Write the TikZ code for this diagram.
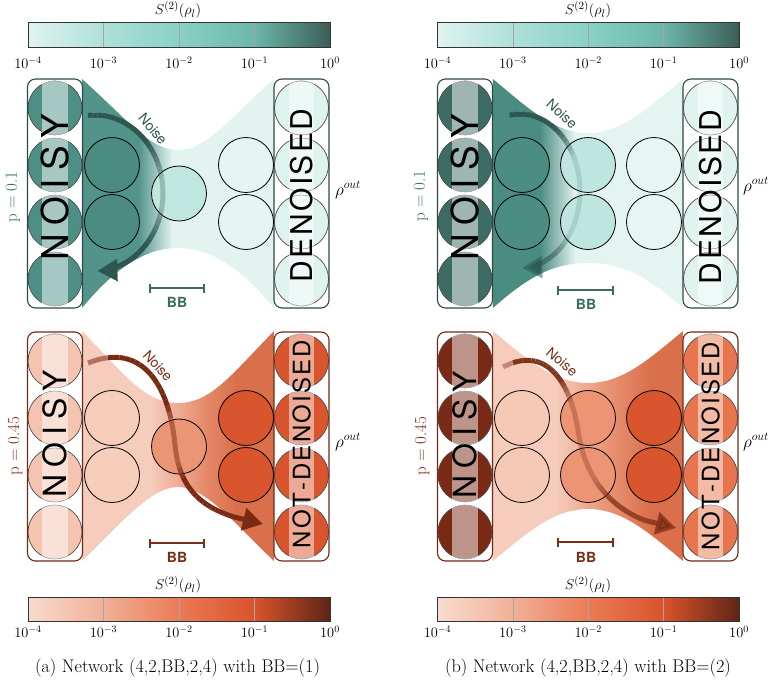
\documentclass[tikz,border=0pt]{standalone}
\usepackage{fontspec}
\newfontfamily\hv{TeX Gyre Heros}
\usetikzlibrary{arrows.meta}

\definecolor{tBox}{HTML}{2E4A46}
\definecolor{tTxt}{HTML}{3D6B64}
\definecolor{tArr}{HTML}{2C564F}
\definecolor{bBox}{HTML}{6E2A16}
\definecolor{bTxt}{HTML}{7A2E17}
\definecolor{bArr}{HTML}{7A2A12}
\definecolor{tlIn}{HTML}{4E8F85}
\definecolor{tlH2}{HTML}{4B8B80}
\definecolor{tlBB}{HTML}{C0E6E0}
\definecolor{tlH4}{HTML}{E5F5F2}
\definecolor{tlOut}{HTML}{DEF2EE}
\definecolor{tlFd}{HTML}{52938A}
\definecolor{tlFl}{HTML}{E3F3F0}
\definecolor{trIn}{HTML}{3D6C64}
\definecolor{trH2}{HTML}{4B8D82}
\definecolor{trBB}{HTML}{BFE5DF}
\definecolor{trH4}{HTML}{E8F6F3}
\definecolor{trOut}{HTML}{E0F3EF}
\definecolor{trFd}{HTML}{4B8C81}
\definecolor{trFl}{HTML}{E4F4F1}
\definecolor{blIn}{HTML}{F4C4B1}
\definecolor{blH2}{HTML}{F6CCBB}
\definecolor{blBB}{HTML}{EC9575}
\definecolor{blH4}{HTML}{D9552D}
\definecolor{blOut}{HTML}{D9552D}
\definecolor{fPink}{HTML}{F6CDBD}
\definecolor{blFm}{HTML}{E58A6A}
\definecolor{fDark}{HTML}{D9704B}
\definecolor{brIn}{HTML}{7A2914}
\definecolor{brH2}{HTML}{F6C9B7}
\definecolor{brBB}{HTML}{EC9474}
\definecolor{brH4}{HTML}{D9552D}
\definecolor{brOut}{HTML}{E8754E}
\definecolor{brFm}{HTML}{EB9A7C}
\definecolor{cTa}{HTML}{E0F3F0}
\definecolor{cTb}{HTML}{AEE0D8}
\definecolor{cTc}{HTML}{88D1C4}
\definecolor{cTd}{HTML}{6DB6A9}
\definecolor{cTe}{HTML}{3B5E57}
\definecolor{cOa}{HTML}{F8DBCF}
\definecolor{cOb}{HTML}{F1B097}
\definecolor{cOc}{HTML}{EA7B55}
\definecolor{cOd}{HTML}{D8532C}
\definecolor{cOe}{HTML}{5E2516}

\newcommand\setbez[8]{\def\Bxa{#1}\def\Bya{#2}\def\Bxb{#3}\def\Byb{#4}\def\Bxc{#5}\def\Byc{#6}\def\Bxd{#7}\def\Byd{#8}}
\newcommand\bezpt[1]{%
 \pgfmathsetmacro\Pu{1-#1}%
 \pgfmathsetmacro\Px{\Pu*\Pu*\Pu*\Bxa+3*\Pu*\Pu*#1*\Bxb+3*\Pu*#1*#1*\Bxc+#1*#1*#1*\Bxd}%
 \pgfmathsetmacro\Py{\Pu*\Pu*\Pu*\Bya+3*\Pu*\Pu*#1*\Byb+3*\Pu*#1*#1*\Byc+#1*#1*#1*\Byd}}
\newcommand\fadebez[4]{%
 \foreach \i in {1,...,#1} {
   \pgfmathsetmacro\Ta{(\i-1)/#1*#2}
   \pgfmathsetmacro\Tb{\i/#1*#2}
   \pgfmathsetmacro\tm{(\i-0.5)/#1*#2}
   \bezpt{\Ta}\let\Qxa\Px\let\Qya\Py
   \bezpt{\Tb}
   \pgfmathsetmacro\myop{#3}
   \draw[arrw,#4,opacity=\myop] (\Qxa,\Qya) -- (\Px,\Py);
 }}
\newcommand\cbar[9]{%
 \pgfmathsetmacro\cbq{(#2-#1)/4}
 \shade[left color=#5,right color=#6] (#1,#3) rectangle ({#1+\cbq+0.4},#4);
 \shade[left color=#6,right color=#7] ({#1+\cbq},#3) rectangle ({#1+2*\cbq+0.4},#4);
 \shade[left color=#7,right color=#8] ({#1+2*\cbq},#3) rectangle ({#1+3*\cbq+0.4},#4);
 \shade[left color=#8,right color=#9] ({#1+3*\cbq},#3) rectangle (#2,#4);
 \foreach \k in {1,2,3} \draw[cbtick] ({#1+\k*\cbq},#3) -- ({#1+\k*\cbq},#4);
 \draw[cbframe] (#1,#3) rectangle (#2,#4);
}

\begin{document}
\begin{tikzpicture}[x=1pt,y=-1pt,
  iocirc/.style={circle,inner sep=0pt,minimum size=54pt,draw=black!70,line width=0.7pt},
  hid/.style={circle,inner sep=0pt,minimum size=55pt,draw=black,line width=0.8pt},
  iobox/.style={rectangle,rounded corners=8pt,inner sep=0pt,minimum width=55pt,minimum height=229pt,line width=1.1pt},
  band/.style={fill=white,fill opacity=0.5},
  bigtxt/.style={rotate=90,inner sep=0pt,text=black},
  arrw/.style={line width=5pt},
  bbbar/.style={line width=1.5pt},
  bblab/.style={font=\hv\bfseries\fontsize{14}{14}\selectfont,inner sep=0pt},
  noiselab/.style={font=\hv\fontsize{14}{14}\selectfont,inner sep=0pt},
  plab/.style={font=\fontsize{17}{17}\selectfont,rotate=90,inner sep=0pt},
  rholab/.style={font=\fontsize{18}{18}\selectfont,inner sep=0pt},
  cbtitle/.style={font=\fontsize{15.5}{15.5}\selectfont,inner sep=0pt},
  ticklab/.style={font=\fontsize{14}{14}\selectfont,inner sep=0pt},
  caplab/.style={font=\fontsize{18.3}{18.3}\selectfont,inner sep=0pt},
  cbframe/.style={draw=black!80,line width=0.7pt},
  cbtick/.style={draw=black!35,line width=0.5pt},
]
\useasboundingbox (0,0) rectangle (770,680);

% ================= colour bars =================
\cbar{28}{330}{22}{47}{cTa}{cTb}{cTc}{cTd}{cTe}
\cbar{437.5}{739}{22}{47}{cTa}{cTb}{cTc}{cTd}{cTe}
\cbar{28}{330}{597}{621}{cOa}{cOb}{cOc}{cOd}{cOe}
\cbar{437.5}{739}{597}{621}{cOa}{cOb}{cOc}{cOd}{cOe}
\node[cbtitle] (cbtA) at (178,10) {$S^{(2)}(\rho_l)$};
\node[cbtitle] (cbtB) at (588,10) {$S^{(2)}(\rho_l)$};
\node[cbtitle] (cbtC) at (178,585) {$S^{(2)}(\rho_l)$};
\node[cbtitle] (cbtD) at (588,585) {$S^{(2)}(\rho_l)$};
\foreach \e [count=\k from 0] in {-4,-3,-2,-1,0} {
  \node[ticklab] (tkA\k) at ({28+75.5*\k},63) {$10^{\e}$};
  \node[ticklab] (tkB\k) at ({437.5+75.375*\k},63) {$10^{\e}$};
  \node[ticklab] (tkC\k) at ({28+75.5*\k},632) {$10^{\e}$};
  \node[ticklab] (tkD\k) at ({437.5+75.375*\k},632) {$10^{\e}$};
}

% ================= top left =================
\begin{scope}
 \clip (82,79) .. controls (130,122) and (150,150) .. (178,150) .. controls (206,150) and (226,122) .. (274,79) -- (274,308) .. controls (236,262) and (206,248) .. (178,248) .. controls (150,248) and (120,262) .. (82,308) -- cycle;
 \fill[tlFd] (82,70) rectangle (138.5,320);
 \shade[left color=tlFd,right color=tlFl] (138,70) rectangle (172.5,320);
 \fill[tlFl] (172,70) rectangle (274,320);
\end{scope}
\foreach \r/\yy in {1/108,2/165,3/222,4/279} {
  \node[iocirc,fill=tlIn] (tlI\r) at (55,\yy) {};
  \node[iocirc,fill=tlOut] (tlO\r) at (301.5,\yy) {};
}
\fill[band] (42,80.5) rectangle (68,306.5);
\fill[band] (289,80.5) rectangle (314,306.5);
\node[iobox,draw=tBox] (tlInBox) at (55,193.5) {};
\node[iobox,draw=tBox] (tlOutBox) at (301.5,193.5) {};
\node[hid,fill=tlH2] (tlA1) at (112,165) {};
\node[hid,fill=tlH2] (tlA2) at (112,222) {};
\node[hid,fill=tlBB] (tlB1) at (179,193.5) {};
\node[hid,fill=tlH4] (tlC1) at (246,165) {};
\node[hid,fill=tlH4] (tlC2) at (246,222) {};
\foreach \a in {-96,-92,...,64} {
  \pgfmathsetmacro\myop{0.3+0.7*min(1,max(0,(abs(\a+2)-12)/30))}
  \draw[arrw,tArr,opacity=\myop] ({95+68*cos(\a)},{193+78*sin(\a)}) arc[start angle=\a,delta angle=4,x radius=68,y radius=78];
}
\draw[arrw,tArr,-{Triangle[length=20pt,width=21pt]}] ({95+68*cos(68)},{193+78*sin(68)}) arc[start angle=68,end angle=88,x radius=68,y radius=78];
\node[noiselab,text=tArr,rotate=-50] (tlNoise) at (153,129) {Noise};
\node[bigtxt,font=\hv\fontsize{37}{37}\selectfont] (tlNoisy) at (55,187) {N\kern8pt O\kern8pt I\kern8pt S\kern8pt Y};
\node[bigtxt,font=\hv\fontsize{30}{30}\selectfont] (tlDen) at (301.5,195.5) {D\kern2.5pt E\kern2.5pt N\kern2.5pt O\kern2.5pt I\kern2.5pt S\kern2.5pt E\kern2.5pt D};
\node[plab,text=tTxt] (tlP) at (13,197) {p${}={}$0.1};
\node[rholab] (tlRho) at (348,190) {$\rho^{out}$};
\draw[bbbar,tTxt] (150,283.5) -- (150,292.5) (150,288) -- (204,288) (204,283.5) -- (204,292.5);
\node[bblab,text=tTxt] (tlBBl) at (177,302) {BB};

% ================= top right =================
\begin{scope}
 \clip (493,79) .. controls (530,110) and (555,133) .. (588,133) .. controls (621,133) and (646,110) .. (683,79) -- (683,308) .. controls (646,275) and (621,263) .. (588,263) .. controls (555,263) and (530,275) .. (493,308) -- cycle;
 \fill[trFd] (493,70) rectangle (540.5,320);
 \shade[left color=trFd,right color=trFl] (540,70) rectangle (575.5,320);
 \fill[trFl] (575,70) rectangle (683,320);
\end{scope}
\foreach \r/\yy in {1/108,2/165,3/222,4/279} {
  \node[iocirc,fill=trIn] (trI\r) at (465,\yy) {};
  \node[iocirc,fill=trOut] (trO\r) at (710.5,\yy) {};
}
\fill[band] (452,80.5) rectangle (478,306.5);
\fill[band] (698,80.5) rectangle (723,306.5);
\node[iobox,draw=tBox] (trInBox) at (465,193.5) {};
\node[iobox,draw=tBox] (trOutBox) at (710.5,193.5) {};
\node[hid,fill=trH2] (trA1) at (522,165) {};
\node[hid,fill=trH2] (trA2) at (522,222) {};
\node[hid,fill=trBB] (trB1) at (588,165) {};
\node[hid,fill=trBB] (trB2) at (588,222) {};
\node[hid,fill=trH4] (trC1) at (654,165) {};
\node[hid,fill=trH4] (trC2) at (654,222) {};
\foreach \a in {-100,-96,...,60} {
  \pgfmathsetmacro\myop{ifthenelse(\a+2<0, 0.15+0.8*min(1,max(0,(-\a-2-25)/30)), 0.15+0.4*min(1,max(0,(\a+2-35)/20)))}
  \draw[arrw,tArr,opacity=\myop] ({520+60*cos(\a)},{191+77*sin(\a)}) arc[start angle=\a,delta angle=4,x radius=60,y radius=77];
}
\draw[arrw,tArr,opacity=0.55,-{Triangle[length=20pt,width=21pt]}] ({520+60*cos(64)},{191+77*sin(64)}) arc[start angle=64,end angle=88,x radius=60,y radius=77];
\node[noiselab,text=tArr,rotate=-42] (trNoise) at (562,114) {Noise};
\node[bigtxt,font=\hv\fontsize{37}{37}\selectfont] (trNoisy) at (465,187) {N\kern8pt O\kern8pt I\kern8pt S\kern8pt Y};
\node[bigtxt,font=\hv\fontsize{30}{30}\selectfont] (trDen) at (710.5,197) {D\kern2.5pt E\kern2.5pt N\kern2.5pt O\kern2.5pt I\kern2.5pt S\kern2.5pt E\kern2.5pt D};
\node[plab,text=tTxt] (trP) at (421,196) {p${}={}$0.1};
\node[rholab] (trRho) at (756,186) {$\rho^{out}$};
\draw[bbbar,tTxt] (558,285.5) -- (558,294.5) (558,290) -- (613,290) (613,285.5) -- (613,294.5);
\node[bblab,text=tTxt] (trBBl) at (586,304) {BB};

% ================= bottom left =================
\begin{scope}
 \clip (82,331) .. controls (125,375) and (145,403) .. (178,403) .. controls (211,403) and (231,375) .. (274,331) -- (274,561) .. controls (236,525) and (206,487) .. (178,487) .. controls (150,487) and (120,525) .. (82,561) -- cycle;
 \fill[fPink] (82,320) rectangle (150.5,570);
 \shade[left color=fPink,right color=blFm] (150,320) rectangle (205.5,570);
 \shade[left color=blFm,right color=fDark] (205,320) rectangle (235.5,570);
 \fill[fDark] (235,320) rectangle (274,570);
\end{scope}
\foreach \r/\yy in {1/361,2/418,3/475,4/532} {
  \node[iocirc,fill=blIn] (blI\r) at (55,\yy) {};
  \node[iocirc,fill=blOut] (blO\r) at (301.5,\yy) {};
}
\fill[band] (42,333.5) rectangle (68,559.5);
\fill[band] (289,333.5) rectangle (314,559.5);
\node[iobox,draw=bBox] (blInBox) at (55,446.5) {};
\node[iobox,draw=bBox] (blOutBox) at (301.5,446.5) {};
\node[hid,fill=blH2] (blA1) at (112,418) {};
\node[hid,fill=blH2] (blA2) at (112,475) {};
\node[hid,fill=blBB] (blB1) at (179,446.5) {};
\node[hid,fill=blH4] (blC1) at (246,418) {};
\node[hid,fill=blH4] (blC2) at (246,475) {};
\setbez{88}{363}{145}{340}{170}{390}{175}{445}
\fadebez{24}{1}{ifthenelse(\tm<0.12,0.55,ifthenelse(\tm<0.75,1,max(0.5,1-(\tm-0.75)*5)))}{bArr}
\setbez{175}{445}{180}{500}{215}{515}{263}{524}
\fadebez{20}{0.78}{ifthenelse(\tm<0.12,0.5,min(1,0.5+(\tm-0.12)*4))}{bArr}
\bezpt{0.78}
\coordinate (blArrS) at (\Px,\Py);
\coordinate (blArrE) at (263,524);
\draw[arrw,bArr,-{Triangle[length=20pt,width=22pt]}] (blArrS) -- (blArrE);
\node[noiselab,text=bTxt,rotate=-47] (blNoise) at (158,366) {Noise};
\node[bigtxt,font=\hv\fontsize{32}{32}\selectfont] (blNoisy) at (55,434) {N\kern7pt O\kern7pt I\kern7pt S\kern7pt Y};
\node[bigtxt,font=\hv\fontsize{24}{24}\selectfont] (blDen) at (301.5,444) {N\kern2.2pt O\kern2.2pt T\kern2.2pt -\kern2.2pt D\kern2.2pt E\kern2.2pt N\kern2.2pt O\kern2.2pt I\kern2.2pt S\kern2.2pt E\kern2.2pt D};
\node[plab,text=bTxt] (blP) at (15,446) {p${}={}$0.45};
\node[rholab] (blRho) at (348,442) {$\rho^{out}$};
\draw[bbbar,bTxt] (150,538.5) -- (150,547.5) (150,543) -- (204,543) (204,538.5) -- (204,547.5);
\node[bblab,text=bTxt] (blBBl) at (177,557) {BB};

% ================= bottom right =================
\begin{scope}
 \clip (493,331) .. controls (530,362) and (555,383) .. (588,383) .. controls (621,383) and (646,362) .. (683,331) -- (683,561) .. controls (646,530) and (621,509) .. (588,509) .. controls (555,509) and (530,530) .. (493,561) -- cycle;
 \fill[fPink] (493,320) rectangle (555.5,570);
 \shade[left color=fPink,right color=brFm] (555,320) rectangle (600.5,570);
 \shade[left color=brFm,right color=fDark] (600,320) rectangle (650.5,570);
 \fill[fDark] (650,320) rectangle (683,570);
\end{scope}
\foreach \r/\yy in {1/361,2/418,3/475,4/532} {
  \node[iocirc,fill=brIn] (brI\r) at (465,\yy) {};
  \node[iocirc,fill=brOut] (brO\r) at (710.5,\yy) {};
}
\fill[band] (452,333.5) rectangle (478,559.5);
\fill[band] (698,333.5) rectangle (723,559.5);
\node[iobox,draw=bBox] (brInBox) at (465,446.5) {};
\node[iobox,draw=bBox] (brOutBox) at (710.5,446.5) {};
\node[hid,fill=brH2] (brA1) at (522,418) {};
\node[hid,fill=brH2] (brA2) at (522,475) {};
\node[hid,fill=brBB] (brB1) at (588,418) {};
\node[hid,fill=brBB] (brB2) at (588,475) {};
\node[hid,fill=brH4] (brC1) at (654,418) {};
\node[hid,fill=brH4] (brC2) at (654,475) {};
\setbez{503}{367}{545}{345}{570}{380}{578}{430}
\fadebez{24}{1}{ifthenelse(\tm<0.1,0.4,ifthenelse(\tm<0.6,0.95,max(0.3,0.95-(\tm-0.6)*3.25)))}{bArr}
\setbez{578}{430}{586}{490}{625}{522}{676}{528}
\fadebez{20}{0.78}{ifthenelse(\tm<0.3,0.3,min(0.72,0.3+(\tm-0.3)*2.1))}{bArr}
\bezpt{0.78}
\coordinate (brArrS) at (\Px,\Py);
\coordinate (brArrE) at (676,528);
\draw[arrw,bArr,opacity=0.72,-{Triangle[length=20pt,width=22pt]}] (brArrS) -- (brArrE);
\node[noiselab,text=bTxt,rotate=-40] (brNoise) at (562,362) {Noise};
\node[bigtxt,font=\hv\fontsize{32}{32}\selectfont] (brNoisy) at (465,435) {N\kern7pt O\kern7pt I\kern7pt S\kern7pt Y};
\node[bigtxt,font=\hv\fontsize{24}{24}\selectfont] (brDen) at (710.5,446) {N\kern2.2pt O\kern2.2pt T\kern2.2pt -\kern2.2pt D\kern2.2pt E\kern2.2pt N\kern2.2pt O\kern2.2pt I\kern2.2pt S\kern2.2pt E\kern2.2pt D};
\node[plab,text=bTxt] (brP) at (422,446) {p${}={}$0.45};
\node[rholab] (brRho) at (756,442) {$\rho^{out}$};
\draw[bbbar,bTxt] (558,537.5) -- (558,546.5) (558,542) -- (613,542) (613,537.5) -- (613,546.5);
\node[bblab,text=bTxt] (brBBl) at (586,557) {BB};

% ================= captions =================
\node[caplab] (capA) at (177.5,668) {(a) Network (4,2,BB,2,4) with BB=(1)};
\node[caplab] (capB) at (588,668) {(b) Network (4,2,BB,2,4) with BB=(2)};
\end{tikzpicture}
\end{document}
